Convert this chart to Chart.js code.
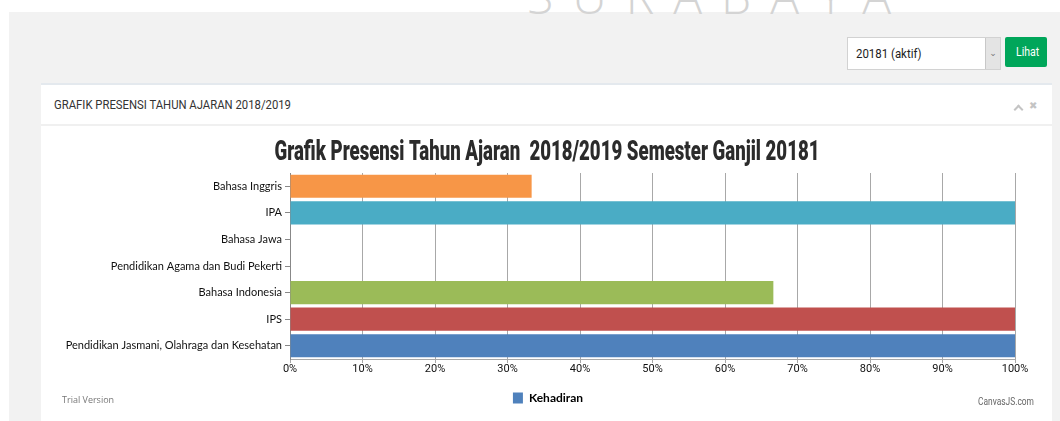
<!DOCTYPE html>
<html>
<head>
<meta charset="utf-8">
<script src="https://cdn.jsdelivr.net/npm/chart.js@4"></script>
<style>
  body { margin: 0; width: 1060px; height: 421px; background: #fff; overflow: hidden; position: relative; font-family: Roboto, sans-serif; }
  .page { position: absolute; left: 9px; top: 12px; right: 0; bottom: 0; background: #f2f2f2; }
  .watermark { position: absolute; left: 527px; top: -37px; font: 300 48px "Open Sans", sans-serif; color: #d4d4d4; letter-spacing: 19px; white-space: nowrap; }
  .narrow { display: inline-block; transform: scaleX(0.88); transform-origin: left center; white-space: nowrap; }
  .select { position: absolute; left: 847px; top: 37px; width: 152px; height: 31px; background: #fff; border: 1px solid #d2d2d2; }
  .select .val { position: absolute; left: 8px; top: 8px; font-size: 13px; color: #222; }
  .select .arrow { position: absolute; right: 0; top: 0; width: 14px; height: 31px; background: #e4e4e4; border-left: 1px solid #c8c8c8; font: 9px "DejaVu Sans", sans-serif; color: #777; text-align: center; line-height: 31px; }
  .btn { position: absolute; left: 1005px; top: 37px; width: 42px; height: 30px; background: #00a65a; border-radius: 2px; color: #fff; font-size: 12px; line-height: 30px; }
  .btn .narrow { position: absolute; left: 11px; }
  .panel { position: absolute; left: 41px; top: 83px; width: 1011px; height: 338px; background: #fff; border-top: 2px solid #e4e9ee; }
  .panel-head { height: 39px; border-bottom: 2px solid #f0f0f0; position: relative; }
  .panel-head .ttl { position: absolute; left: 13px; top: 12px; font-size: 13px; color: #333; transform: scaleX(0.87); }
  .panel-head .up { position: absolute; left: 974px; top: 21px; width: 5px; height: 5px; border-top: 2px solid #c4c4c4; border-left: 2px solid #c4c4c4; transform: rotate(45deg); }
  .panel-head .cls { position: absolute; left: 988px; top: 15px; font: bold 10px "DejaVu Sans", sans-serif; color: #c4c4c4; }
  #wrap { position: absolute; left: 41px; top: 126px; width: 1014px; height: 295px; }
  .trial { position: absolute; left: 62px; top: 393px; font: 9px "Open Sans", sans-serif; color: #777; }
  .credit { position: absolute; left: 978px; top: 395px; font-size: 10.5px; color: #666; }
  .credit .narrow { transform: scaleX(0.8); }
</style>
</head>
<body>
<div class="page"></div>
<div class="watermark">SURABAYA</div>
<div class="select"><span class="val narrow">20181 (aktif)</span><div class="arrow">&#8964;</div></div>
<div class="btn"><span class="narrow">Lihat</span></div>
<div class="panel">
  <div class="panel-head"><span class="ttl narrow">GRAFIK PRESENSI TAHUN AJARAN 2018/2019</span><div class="up"></div><div class="cls">&#10006;</div></div>
</div>
<div id="wrap"><canvas id="grafik" width="1014" height="295"></canvas></div>
<div class="trial">Trial Version</div>
<div class="credit"><span class="narrow">CanvasJS.com</span></div>
<script>
const judul = "Grafik Presensi Tahun Ajaran  2018/2019 Semester Ganjil 20181";
const mapel = [
  "Bahasa Inggris",
  "IPA",
  "Bahasa Jawa",
  "Pendidikan Agama dan Budi Pekerti",
  "Bahasa Indonesia",
  "IPS",
  "Pendidikan Jasmani, Olahraga dan Kesehatan"
];
const kehadiran = [33.33, 100, 0, 0, 66.67, 100, 100];
const warna = ["#F79647", "#4AACC5", "#8064A1", "#23BFAA", "#9BBB58", "#C0504E", "#4F81BC"];
const persenTicks = [0, 10, 20, 30, 40, 50, 60, 70, 80, 90, 100];

// judul grafik digambar sendiri supaya hurufnya bisa dipadatkan (mirip Impact)
const judulPlugin = {
  id: "judulPadat",
  afterDraw(chart) {
    const c = chart.ctx;
    c.save();
    c.font = "900 27px Roboto";
    c.fillStyle = "#2b2b2b";
    c.textAlign = "center";
    c.textBaseline = "middle";
    const lebar = c.measureText(judul).width;
    const sx = 545 / lebar;
    c.translate(506, 27);
    c.scale(sx, 1);
    c.fillText(judul, 0, 0);
    c.restore();
  }
};

const ctx = document.getElementById("grafik").getContext("2d");
new Chart(ctx, {
  type: "bar",
  data: {
    labels: mapel,
    datasets: [{
      label: "Kehadiran",
      data: kehadiran,
      backgroundColor: warna,
      borderWidth: 0,
      categoryPercentage: 1,
      barPercentage: 0.87
    }]
  },
  plugins: [judulPlugin],
  options: {
    indexAxis: "y",
    responsive: false,
    animation: false,
    layout: { padding: { left: 0, right: 0, top: 47, bottom: 7 } },
    plugins: {
      title: { display: false },
      legend: {
        position: "bottom",
        labels: {
          color: "#333",
          font: { family: "Lato", size: 12, weight: "bold" },
          boxWidth: 10,
          boxHeight: 11,
          padding: 8,
          generateLabels: () => [{ text: "Kehadiran", fillStyle: "#4F81BC", strokeStyle: "#4F81BC", lineWidth: 0, datasetIndex: 0 }]
        }
      },
      tooltip: { enabled: false }
    },
    scales: {
      x: {
        min: 0,
        max: 100,
        afterBuildTicks: (scale) => { scale.ticks = persenTicks.map(v => ({ value: v })); },
        afterFit: (scale) => { scale.height = 25; },
        ticks: {
          callback: (v) => v + "%",
          color: "#111",
          font: { family: "Roboto", size: 11 },
          padding: 0,
          maxRotation: 0
        },
        grid: { color: "#a8a8a8", lineWidth: 1, tickLength: 4 },
        border: { color: "#a8a8a8" }
      },
      y: {
        afterFit: (scale) => { scale.width = 249; },
        ticks: {
          color: "#111",
          font: { family: "Lato", size: 11 },
          padding: 3
        },
        grid: { drawOnChartArea: false, offset: false, color: "#888", tickLength: 5 },
        border: { color: "#888" }
      },
      // sumbu kosong di kanan, hanya untuk memberi ruang kosong setelah 100%
      kanan: {
        type: "linear",
        position: "right",
        grid: { display: false },
        border: { display: false },
        ticks: { display: false },
        afterFit: (scale) => { scale.width = 40; }
      }
    }
  }
});
</script>
</body>
</html>
